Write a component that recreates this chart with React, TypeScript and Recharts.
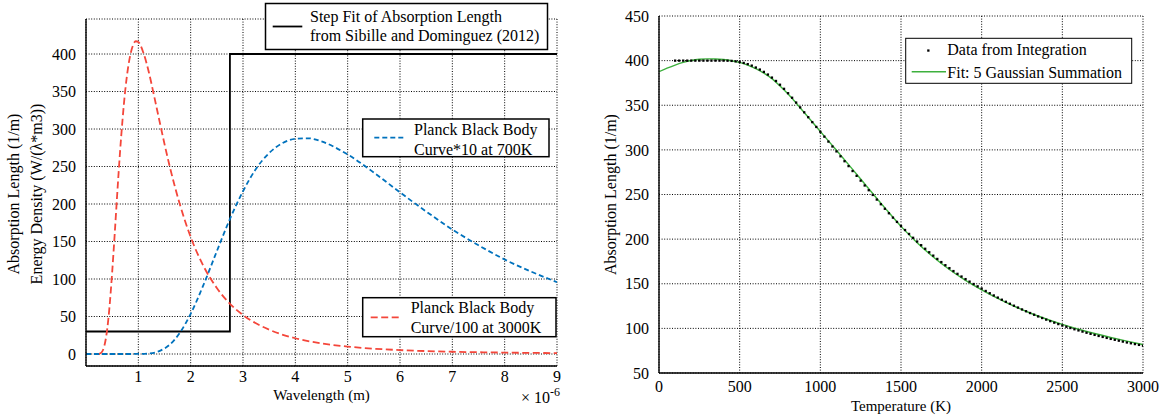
import React from 'react';
import { ComposedChart, Line, Scatter, XAxis, YAxis, CartesianGrid } from 'recharts';

// ---------- Left chart data (wavelength in micrometres, axis shows ×10^-6) ----------
const wavelengthTicks = [1, 2, 3, 4, 5, 6, 7, 8, 9];
const energyTicks = [0, 50, 100, 150, 200, 250, 300, 350, 400];

const stepX = [0, 2.75, 2.75, 9];
const stepY = [30, 30, 400, 400];

const redX = [0.25, 0.3, 0.35, 0.4, 0.45, 0.5, 0.55, 0.6, 0.65, 0.7, 0.75, 0.8, 0.9, 0.95, 1.0, 1.1, 1.2, 1.3, 1.4, 1.6, 1.8, 2.0, 2.25, 2.5, 2.75, 3.0, 3.5, 4.0, 4.5, 5.0, 5.5, 6.0, 7.0, 8.0, 9.0];
const redY = [0.2, 2.3, 10.7, 30.2, 63.5, 109, 161.7, 217, 269, 314, 351.7, 380, 412, 417, 416, 401, 376, 344.6, 312, 250, 198, 156, 116.5, 88, 67, 52, 32.4, 21, 14.2, 9.9, 7.1, 5.2, 3.0, 1.9, 1.2];

const blueX = [0, 0.5, 1.0, 1.2, 1.4, 1.6, 1.8, 2.0, 2.25, 2.5, 2.75, 3.0, 3.25, 3.5, 3.75, 4.0, 4.25, 4.5, 5.0, 5.5, 6.0, 6.5, 7.0, 7.5, 8.0, 8.5, 9.0];
const blueY = [0, 0, 0.06, 0.7, 3.9, 12.5, 29, 53.6, 93, 137, 180, 217, 247, 268, 281, 287, 287.6, 283.5, 266, 242, 215.5, 190, 166, 145, 126, 110, 95.8];

// ---------- Right chart data ----------
const tempTicks = [0, 500, 1000, 1500, 2000, 2500, 3000];
const absTicks = [50, 100, 150, 200, 250, 300, 350, 400, 450];

const integTemps = [
  100, 125, 150, 175, 200, 225, 250, 275, 300, 325, 350, 375, 400,
  425, 450, 475, 500, 525, 550, 575, 600, 625, 650, 675, 700, 725, 750, 775, 800, 825, 850, 875, 900, 925, 950, 975, 1000,
  1025, 1050, 1075, 1100, 1125, 1150, 1175, 1200, 1225, 1250, 1275, 1300, 1325, 1350, 1375, 1400, 1425, 1450, 1475, 1500,
  1525, 1550, 1575, 1600, 1625, 1650, 1675, 1700, 1725, 1750, 1775, 1800, 1825, 1850, 1875, 1900, 1925, 1950, 1975, 2000,
  2025, 2050, 2075, 2100, 2125, 2150, 2175, 2200, 2225, 2250, 2275, 2300, 2325, 2350, 2375, 2400, 2425, 2450, 2475, 2500,
  2525, 2550, 2575, 2600, 2625, 2650, 2675, 2700, 2725, 2750, 2775, 2800, 2825, 2850, 2875, 2900, 2925, 2950, 2975, 3000,
];
const integValues = [
  400, 400, 400, 400, 400, 400, 400, 400, 400, 400, 400, 400, 400,
  399.9, 399.7, 399.2, 398.4, 397.4, 396.1, 394.4, 392.3, 390, 387.4, 384.4, 381, 377.2, 373, 368.4, 363.5, 358.4, 353, 347.6, 342.1, 336.6, 331.1, 325.7, 320.3,
  314.8, 309.3, 303.8, 298.3, 292.8, 287.3, 281.8, 276.3, 270.9, 265.5, 260.1, 254.8, 249.5, 244.3, 239.1, 234.0, 229.0, 224.1, 219.3, 214.6,
  210.2, 205.8, 201.5, 197.3, 193.2, 189.2, 185.3, 181.5, 177.8, 174.3, 170.8, 167.5, 164.2, 161.1, 158.1, 155.2, 152.4, 149.7, 147.1, 144.6,
  141.9, 139.4, 136.9, 134.5, 132.1, 129.8, 127.6, 125.4, 123.3, 121.2, 119.2, 117.2, 115.3, 113.4, 111.6, 109.8, 108.1, 106.4, 104.8, 103.2,
  101.8, 100.4, 99.0, 97.7, 96.4, 95.1, 93.9, 92.7, 91.5, 90.4, 89.3, 88.2, 87.2, 86.2, 85.2, 84.2, 83.3, 82.4, 81.5, 80.6,
];

const fitTemps = [0, 50, 100, 150, 200, 250, 300, 350, 400, 450, 500, 550, 600, 650, 700, 750, 800, 900, 1000, 1100, 1200, 1300, 1400, 1500, 1600, 1700, 1800, 1900, 2000, 2100, 2200, 2300, 2400, 2500, 2600, 2700, 2800, 2900, 3000];
const fitValues = [387.6, 391.5, 395, 398, 400.2, 401.5, 402, 401.9, 401.2, 399.9, 398, 395, 391, 386, 379.8, 371.5, 362.5, 341.8, 320.6, 299.6, 278.2, 256.4, 235, 214.3, 196, 180, 166, 153.8, 143.2, 133.6, 124.9, 117.2, 110.5, 104.4, 99, 94.2, 89.8, 85.7, 81.8];

const zip = (xs: number[], ys: number[]) => xs.map((x, i) => ({ x, y: ys[i] }));
const stepData = zip(stepX, stepY);
const redData = zip(redX, redY);
const blueData = zip(blueX, blueY);
const integData = zip(integTemps, integValues);
const fitData = zip(fitTemps, fitValues);

const FONT = '"Liberation Serif", "Times New Roman", serif';
const RED = '#F4463A';
const BLUE = '#0072BD';
const GREEN = '#3DB03D';
const tickStyle = { fontFamily: FONT, fontSize: 16, fill: '#000' };
const gridProps = { stroke: '#000', strokeDasharray: '1 1.6', strokeWidth: 1 };
const frame = { stroke: '#000', strokeWidth: 1.4 };

const Dot = (p: any) => <rect x={p.cx - 1.15} y={p.cy - 1.15} width={2.3} height={2.3} fill="#000" />;

export default function App() {
  return (
    <div style={{ position: 'absolute', left: 0, top: 0, width: 1165, height: 415, background: '#fff' }}>
      <div style={{ position: 'absolute', left: 0, top: 0 }}>
        <ComposedChart width={580} height={415} margin={{ top: 19, right: 23, bottom: 19, left: 26 }}>
          <CartesianGrid {...gridProps} />
          <XAxis dataKey="x" type="number" domain={[0, 9]} ticks={wavelengthTicks} interval={0}
            allowDataOverflow height={30} tick={tickStyle} tickLine={false} tickSize={4} tickMargin={1} axisLine={frame} />
          <XAxis xAxisId="top" orientation="top" type="number" domain={[0, 9]} height={0} tick={false} tickLine={false} axisLine={frame} />
          <YAxis dataKey="y" type="number" domain={[-16, 446.7]} ticks={energyTicks} interval={0}
            allowDataOverflow width={60} tick={tickStyle} tickLine={false} tickSize={6} tickMargin={4} axisLine={frame} />
          <YAxis yAxisId="right" orientation="right" type="number" domain={[-16, 446.7]} width={0} tick={false} tickLine={false} axisLine={frame} />
          <Line data={stepData} dataKey="y" type="linear" stroke="#000" strokeWidth={1.8} dot={false} activeDot={false} isAnimationActive={false} />
          <Line data={blueData} dataKey="y" type="monotone" stroke={BLUE} strokeWidth={1.8} strokeDasharray="5 3" dot={false} activeDot={false} isAnimationActive={false} />
          <Line data={redData} dataKey="y" type="monotone" stroke={RED} strokeWidth={1.8} strokeDasharray="7 3.5" dot={false} activeDot={false} isAnimationActive={false} />
        </ComposedChart>
      </div>
      <div style={{ position: 'absolute', left: 590, top: 0 }}>
        <ComposedChart width={575} height={415} margin={{ top: 16, right: 22, bottom: 12, left: 9 }}>
          <CartesianGrid {...gridProps} />
          <XAxis dataKey="x" type="number" domain={[0, 3000]} ticks={tempTicks} interval={0}
            allowDataOverflow height={30} tick={tickStyle} tickLine={false} tickSize={6} tickMargin={2} axisLine={frame} />
          <XAxis xAxisId="top" orientation="top" type="number" domain={[0, 3000]} height={0} tick={false} tickLine={false} axisLine={frame} />
          <YAxis dataKey="y" type="number" domain={[50, 450]} ticks={absTicks} interval={0}
            allowDataOverflow width={60} tick={tickStyle} tickLine={false} tickSize={6} tickMargin={4} axisLine={frame} />
          <YAxis yAxisId="right" orientation="right" type="number" domain={[50, 450]} width={0} tick={false} tickLine={false} axisLine={frame} />
          <Scatter data={integData} dataKey="y" shape={Dot} isAnimationActive={false} />
          <Line data={fitData} dataKey="y" type="monotone" stroke={GREEN} strokeWidth={1.4} dot={false} activeDot={false} isAnimationActive={false} />
        </ComposedChart>
      </div>
      <svg width={1165} height={415} style={{ position: 'absolute', left: 0, top: 0, pointerEvents: 'none' }}
        fontFamily={FONT} fontSize={16} fill="#000">
        {/* left axis labels */}
        <text transform="translate(18.5,194) rotate(-90)" textAnchor="middle">Absorption Length (1/m)</text>
        <text transform="translate(42,194) rotate(-90)" textAnchor="middle">Energy Density (W/(λ*m3))</text>
        <text x={321.5} y={400} textAnchor="middle" fontSize={15}>Wavelength (m)</text>
        <text x={521} y={403}>× 10<tspan dy={-7} fontSize={12}>-6</tspan></text>
        {/* right axis labels */}
        <text transform="translate(616,194.5) rotate(-90)" textAnchor="middle">Absorption Length (1/m)</text>
        <text x={901} y={411} textAnchor="middle" fontSize={15}>Temperature (K)</text>

        {/* legend: step fit */}
        <rect x={265.5} y={3.5} width={282} height={46} fill="#fff" stroke="#000" strokeWidth={1.5} />
        <line x1={272.7} x2={302.3} y1={26.5} y2={26.5} stroke="#000" strokeWidth={1.8} />
        <text x={310} y={21.5}>Step Fit of Absorption Length</text>
        <text x={310} y={41}>from Sibille and Dominguez (2012)</text>

        {/* legend: blue */}
        <rect x={362.7} y={119} width={186.3} height={37.7} fill="#fff" stroke="#000" strokeWidth={1.5} />
        <line x1={374.3} x2={405} y1={137.7} y2={137.7} stroke={BLUE} strokeWidth={1.8} strokeDasharray="5 3" />
        <text x={414} y={134.5}>Planck Black Body</text>
        <text x={414} y={154.5}>Curve*10 at 700K</text>

        {/* legend: red */}
        <rect x={362.7} y={297.7} width={193.3} height={39} fill="#fff" stroke="#000" strokeWidth={1.5} />
        <line x1={370.7} x2={401} y1={317.3} y2={317.3} stroke={RED} strokeWidth={1.8} strokeDasharray="7 3.5" />
        <text x={410.7} y={313.3}>Planck Black Body</text>
        <text x={410.7} y={333}>Curve/100 at 3000K</text>

        {/* legend: right */}
        <rect x={905.7} y={38.3} width={226} height={45} fill="#fff" stroke="#000" strokeWidth={1} />
        <rect x={927.2} y={49.4} width={2.3} height={2.3} fill="#000" />
        <line x1={911.7} x2={946} y1={71.7} y2={71.7} stroke={GREEN} strokeWidth={1.4} />
        <text x={947.3} y={55}>Data from Integration</text>
        <text x={947.3} y={78}>Fit: 5 Gaussian Summation</text>
      </svg>
    </div>
  );
}
